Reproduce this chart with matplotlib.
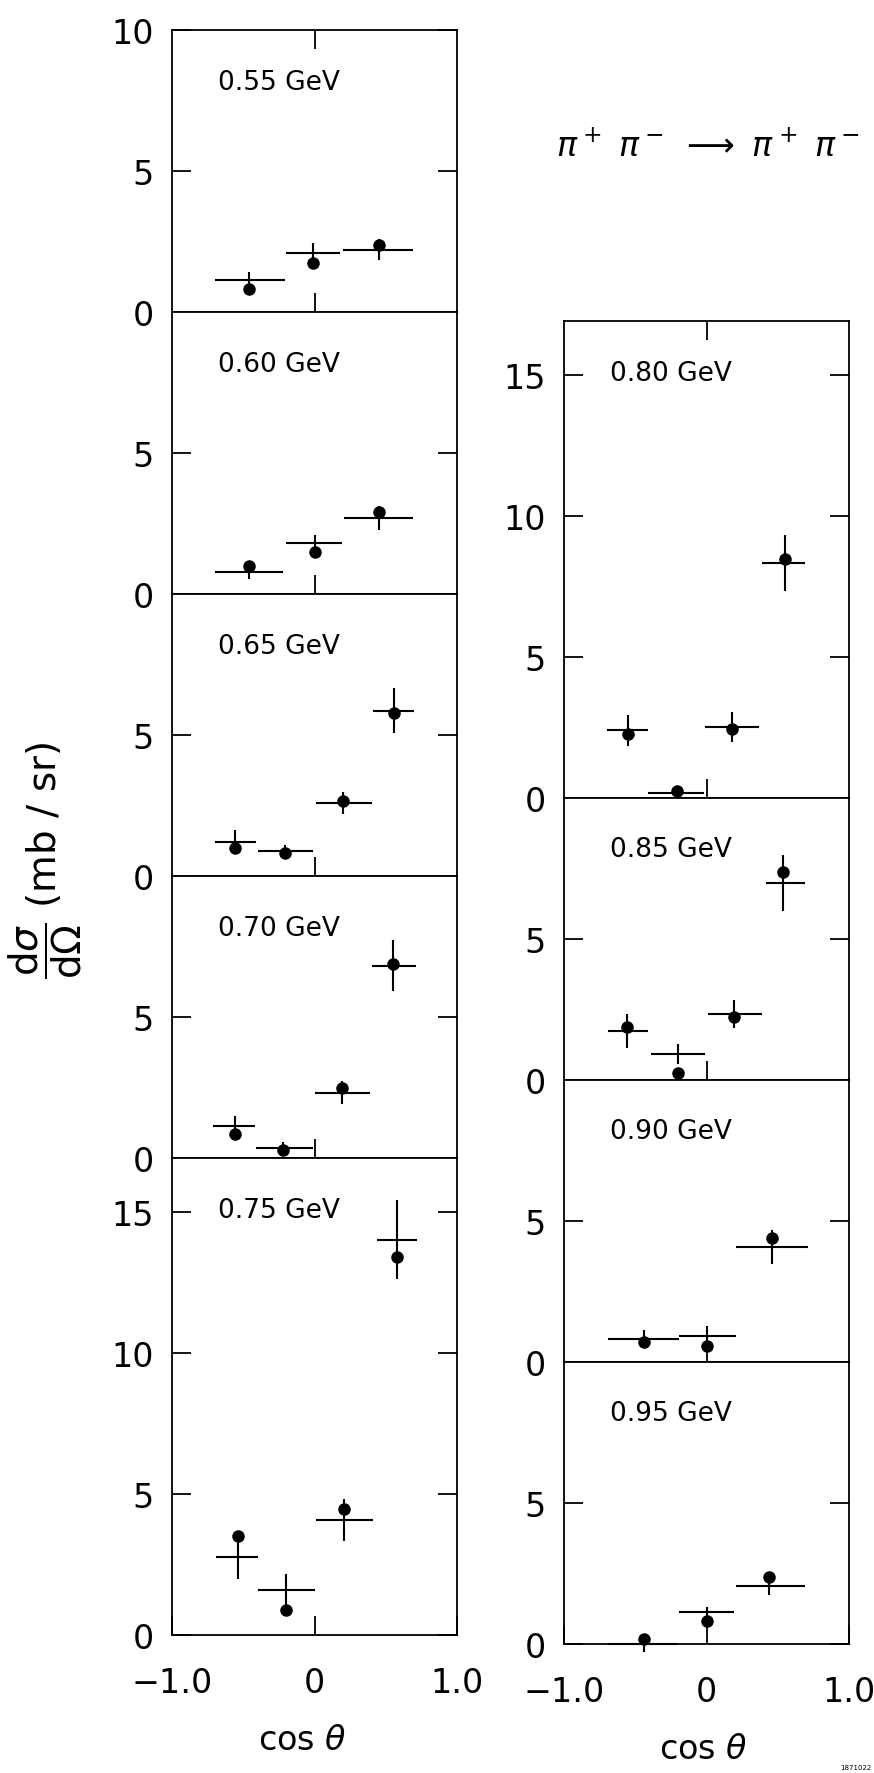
import numpy as np
import matplotlib.pyplot as plt

plt.rcParams['font.family'] = ['DejaVu Sans']
plt.rcParams['mathtext.fontset'] = 'dejavusans'

# pi+ pi- -> pi+ pi- angular distributions, one panel per energy
energies = ['0.55 GeV', '0.60 GeV', '0.65 GeV', '0.70 GeV', '0.75 GeV',
            '0.80 GeV', '0.85 GeV', '0.90 GeV', '0.95 GeV']
ymax = [10, 10, 10, 10, 16.9, 16.9, 10, 10, 10]

# crosses: bin edges in cos(theta), centre, value and error (mb/sr)
bin_lo = [[-0.70, -0.20, 0.20], [-0.70, -0.20, 0.21],
          [-0.70, -0.40, 0.01, 0.41], [-0.71, -0.41, 0.00, 0.40],
          [-0.69, -0.40, 0.01, 0.44], [-0.70, -0.41, -0.01, 0.39],
          [-0.69, -0.39, 0.01, 0.42], [-0.69, -0.19, 0.21], [-0.69, -0.19, 0.21]]
bin_hi = [[-0.21, 0.18, 0.69], [-0.22, 0.19, 0.69],
          [-0.41, -0.01, 0.40, 0.70], [-0.42, -0.01, 0.39, 0.71],
          [-0.40, 0.00, 0.41, 0.72], [-0.41, -0.02, 0.37, 0.69],
          [-0.41, -0.01, 0.39, 0.69], [-0.19, 0.21, 0.71], [-0.21, 0.19, 0.69]]
cross_x = [[-0.46, -0.01, 0.45], [-0.46, 0.00, 0.45],
           [-0.56, -0.21, 0.20, 0.56], [-0.56, -0.22, 0.19, 0.55],
           [-0.54, -0.20, 0.21, 0.58], [-0.55, -0.21, 0.18, 0.55],
           [-0.56, -0.20, 0.19, 0.54], [-0.44, 0.00, 0.46], [-0.44, 0.00, 0.44]]
cross_y = [[1.15, 2.09, 2.22], [0.79, 1.82, 2.70],
           [1.22, 0.91, 2.61, 5.88], [1.14, 0.37, 2.33, 6.83],
           [2.78, 1.58, 4.09, 14.01], [2.40, 0.19, 2.52, 8.34],
           [1.73, 0.91, 2.34, 6.98], [0.82, 0.93, 4.07], [0.00, 1.15, 2.05]]
cross_err = [[0.30, 0.37, 0.37], [0.23, 0.30, 0.43],
             [0.42, 0.20, 0.40, 0.80], [0.35, 0.20, 0.40, 0.90],
             [0.80, 0.60, 0.75, 1.40], [0.55, 0.15, 0.52, 1.00],
             [0.60, 0.36, 0.50, 1.00], [0.30, 0.33, 0.60], [0.30, 0.17, 0.30]]
# dots: second measurement at the same angles
dot_y = [[0.84, 1.75, 2.40], [0.99, 1.51, 2.93],
         [1.02, 0.84, 2.68, 5.78], [0.86, 0.31, 2.51, 6.89],
         [3.52, 0.87, 4.47, 13.39], [2.28, 0.25, 2.43, 8.47],
         [1.89, 0.26, 2.23, 7.38], [0.71, 0.58, 4.38], [0.18, 0.80, 2.38]]

W, H = 874, 1774
fig = plt.figure(figsize=(W / 100, H / 100), dpi=100)

# panel boxes in pixels: (left, top, bottom)
boxes = [(172, 31.4, 313.4), (172, 313.4, 595.4), (172, 595.4, 877.4),
         (172, 877.4, 1159.4), (172, 1159.4, 1636),
         (564, 322.4, 799), (564, 799, 1081), (564, 1081, 1363), (564, 1363, 1645)]
pw = 285
tops = [0, 5]
bottoms = [4, 8]

for i, (lab, (x0, t, b)) in enumerate(zip(energies, boxes)):
    ax = fig.add_axes([x0 / W, 1 - b / H, pw / W, (b - t) / H])
    ax.set_xlim(-1, 1)
    ax.set_ylim(0, ymax[i])

    cy = np.array(cross_y[i])
    ce = np.array(cross_err[i])
    ax.hlines(cy, bin_lo[i], bin_hi[i], color='black', lw=1.5, clip_on=False)
    ax.vlines(cross_x[i], cy - ce, cy + ce, color='black', lw=1.5, clip_on=False)
    ax.plot(cross_x[i], dot_y[i], 'o', color='black', ms=8, clip_on=False)

    if ymax[i] > 10:
        yt = [0, 5, 10, 15]
    elif i == 0:
        yt = [0, 5, 10]
    else:
        yt = [0, 5]
    ax.set_yticks(yt)
    ax.set_yticklabels([str(v) for v in yt])
    ax.tick_params(axis='y', direction='in', length=14, width=1.3, right=True,
                   labelsize=24, pad=13)

    if i in bottoms:
        ax.set_xticks([-1, 0, 1])
        ax.set_xticklabels(['\u22121.0', '0', '1.0'])
    else:
        ax.set_xticks([0])
        ax.set_xticklabels([])
    ax.tick_params(axis='x', direction='in', length=14, width=1.3,
                   top=(i in tops), labelsize=24, pad=22)

    for s in ax.spines.values():
        s.set_linewidth(1.3)

    ax.annotate(lab, xy=(0, 1), xycoords='axes fraction', xytext=(33, -37),
                textcoords='offset points', ha='left', va='center', fontsize=19)

# axis titles and reaction label
fig.text(45 / W, 1 - 860 / H,
         r'$\dfrac{\mathrm{d}\sigma}{\mathrm{d}\Omega}$ (mb / sr)', rotation=90,
         ha='center', va='center', fontsize=28)
fig.text(302 / W, 1 - 1741 / H, r'cos $\theta$', ha='center', va='center', fontsize=24)
fig.text(703 / W, 1 - 1750 / H, r'cos $\theta$', ha='center', va='center', fontsize=24)
fig.text(708 / W, 1 - 147 / H, r'$\pi^+\ \pi^-\ \longrightarrow\ \pi^+\ \pi^-$',
         ha='center', va='center', fontsize=24)
fig.text(856 / W, 1 - 1768 / H, '1871022', ha='center', va='center', fontsize=5)

fig.savefig('out.png', dpi=100)
